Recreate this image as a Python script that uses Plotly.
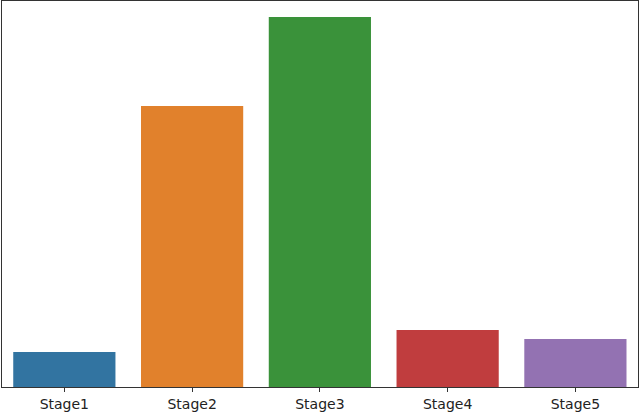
import plotly.graph_objects as go

categories = ["Stage1", "Stage2", "Stage3", "Stage4", "Stage5"]
values = [35, 281, 370, 57, 48]
colors = ["#3274a1", "#e1812c", "#3a923a", "#c03d3e", "#9372b2"]

fig = go.Figure(go.Bar(
    x=categories, y=values,
    marker=dict(color=colors, line=dict(width=0)),
    width=0.8,
    hoverinfo="skip",
))

fig.update_layout(
    width=640, height=415,
    margin=dict(l=2, r=2, t=1, b=28),
    paper_bgcolor="white", plot_bgcolor="white",
    showlegend=False,
    font=dict(family="DejaVu Sans", size=14, color="#222"),
)
fig.update_xaxes(
    range=[-0.488, 4.49], showgrid=False, zeroline=False,
    showline=True, linecolor="#333", linewidth=1, mirror=True,
    ticks="outside", ticklen=4, tickcolor="#333", tickwidth=1,
)
fig.update_yaxes(
    range=[0, 386], showgrid=False, zeroline=False,
    showline=True, linecolor="#333", linewidth=1, mirror=True,
    showticklabels=False, ticks="",
)

fig.write_html(
    "out.html",
    config={"displayModeBar": False, "staticPlot": True},
    post_script="document.body.style.margin='0';document.body.style.overflow='hidden';",
)
